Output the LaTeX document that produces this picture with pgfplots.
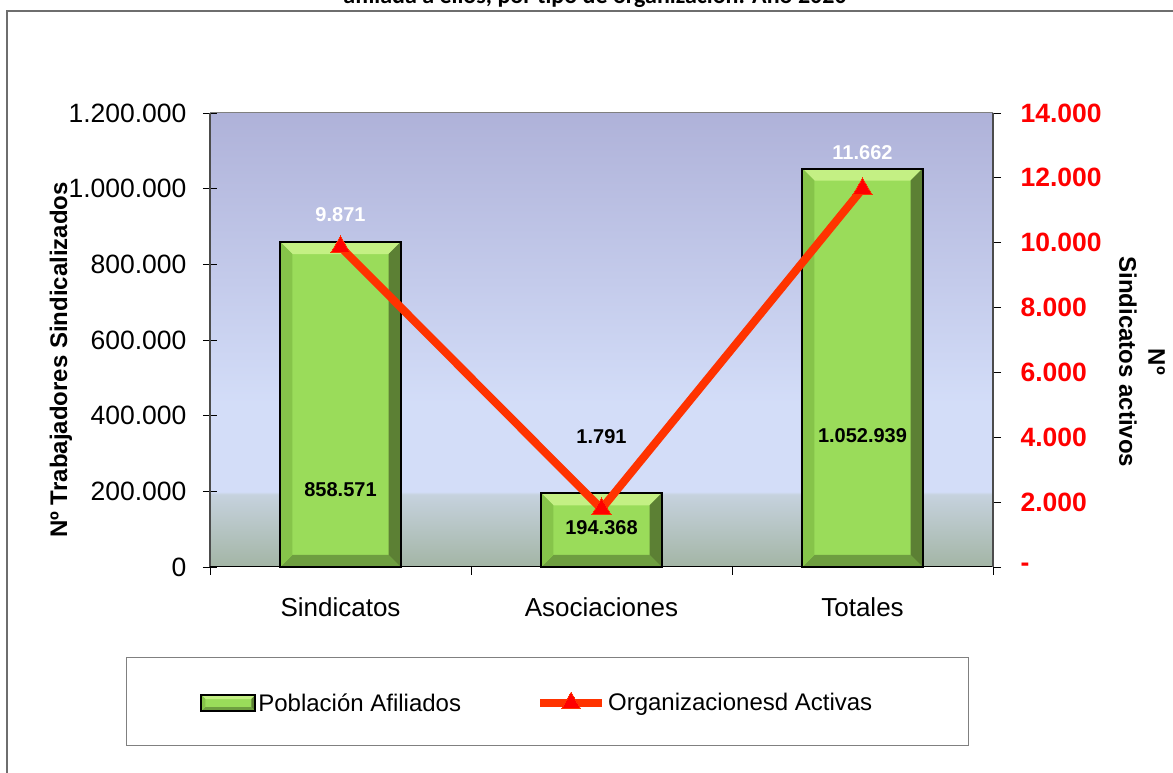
\documentclass[border=0pt]{standalone}
\usepackage{fontspec}
\setmainfont{Liberation Sans}
\newfontfamily\titlefont{Carlito}
\usepackage{pgfplots}
\pgfplotsset{compat=1.18}
\definecolor{bgbot}{HTML}{A3B5A5}
\definecolor{bgmidb}{HTML}{C6D2DE}
\definecolor{bgmid}{HTML}{D3DDF8}
\definecolor{bgtop}{HTML}{AFB2D9}
\definecolor{barGreen}{HTML}{9ADC5A}
\definecolor{bevTop}{HTML}{C4F084}
\definecolor{bevLeft}{HTML}{86C44A}
\definecolor{bevRight}{HTML}{5C8034}
\definecolor{bevBot}{HTML}{6E9E40}
\definecolor{lineRed}{HTML}{FF3300}
\definecolor{frameGray}{HTML}{6E6E6E}
\pgfdeclareverticalshading{plotbg}{100bp}{color(0bp)=(bgbot); color(25bp)=(bgbot); color(33bp)=(bgmidb); color(33.3bp)=(bgmid); color(43bp)=(bgmid); color(75bp)=(bgtop); color(100bp)=(bgtop)}
\pgfplotsset{mylinelegend/.style={legend image code/.code={\draw[mark repeat=2,mark phase=2,##1] plot coordinates {(0pt,0pt) (31pt,0pt) (62pt,0pt)};}}}
\tikzset{bevfill/.style={path picture={}, draw=none, line width=0pt},
bevel/.style={path picture={
  \fill[bevfill, bevTop] (path picture bounding box.north west) -- (path picture bounding box.north east) -- ([shift={(-#1,-#1)}]path picture bounding box.north east) -- ([shift={(#1,-#1)}]path picture bounding box.north west) -- cycle;
  \fill[bevfill, bevRight] (path picture bounding box.north east) -- (path picture bounding box.south east) -- ([shift={(-#1,#1)}]path picture bounding box.south east) -- ([shift={(-#1,-#1)}]path picture bounding box.north east) -- cycle;
  \fill[bevfill, bevBot] (path picture bounding box.south east) -- (path picture bounding box.south west) -- ([shift={(#1,#1)}]path picture bounding box.south west) -- ([shift={(-#1,#1)}]path picture bounding box.south east) -- cycle;
  \fill[bevfill, bevLeft] (path picture bounding box.south west) -- (path picture bounding box.north west) -- ([shift={(#1,-#1)}]path picture bounding box.north west) -- ([shift={(#1,#1)}]path picture bounding box.south west) -- cycle;
}}}
\pgfplotsset{barstyle/.style={fill=barGreen, draw=black, line width=2pt, bevel=12pt, bar shift=0pt}}
\begin{document}
\begin{tikzpicture}[x=1pt,y=1pt]
\useasboundingbox (0,0) rectangle (1173,773);
\draw[frameGray, line width=1.5pt] (7,0) -- (7,762) -- (1173,762);
\node[font=\titlefont\bfseries\fontsize{24}{28}\selectfont, anchor=base] at (595,769) {afiliada a ellos, por tipo de organización. Año 2020};
\draw[gray, line width=1pt] (126,27) rectangle (968,115);

\begin{axis}[
  at={(210pt,206pt)}, anchor=south west,
  scale only axis, width=783pt, height=454pt,
  xmin=-0.5, xmax=2.5, ymin=0, ymax=1200000,
  axis x line*=bottom, axis y line*=left,
  axis background/.style={shading=plotbg},
  x axis line style={black, line width=1pt, -},
  y axis line style={black!70, line width=2pt, -},
  xtick={0,1,2}, xticklabels={Sindicatos,Asociaciones,Totales},
  major x tick style={draw=none},
  x tick label style={font=\fontsize{26}{30}\selectfont, yshift=-13pt},
  ytick={0,200000,400000,600000,800000,1000000,1200000},
  yticklabels={0,200.000,400.000,600.000,800.000,1.000.000,1.200.000},
  scaled y ticks=false,
  y tick label style={font=\fontsize{26.5}{30}\selectfont, xshift=-13pt},
  tick align=center, major tick length=14pt,
  major y tick style={black, line width=0.8pt},
  /pgf/number format/assume math mode=true,
  ybar, bar width=0.46,
  clip=false,
]
\addplot[barstyle] coordinates {(0,858571)};
\addplot[barstyle] coordinates {(1,194368)};
\addplot[barstyle] coordinates {(2,1052939)};
\node[font=\bfseries\fontsize{20}{24}\selectfont] at (axis cs:0,203500) {858.571};
\node[font=\bfseries\fontsize{20}{24}\selectfont] at (axis cs:1,103000) {194.368};
\node[font=\bfseries\fontsize{20}{24}\selectfont] at (axis cs:2,346000) {1.052.939};
\end{axis}

\begin{axis}[
  at={(210pt,206pt)}, anchor=south west,
  scale only axis, width=783pt, height=454pt,
  xmin=-0.5, xmax=2.5, ymin=0, ymax=14000,
  axis x line*=bottom, axis y line*=right,
  x axis line style={black, line width=1pt, -},
  y axis line style={black!70, line width=2pt, -},
  xtick={-0.5,0.5,1.5,2.5}, xticklabels={},
  ytick={0,2000,4000,6000,8000,10000,12000,14000},
  yticklabels={-,2.000,4.000,6.000,8.000,10.000,12.000,14.000},
  scaled y ticks=false,
  y tick label style={font=\bfseries\fontsize{26.5}{30}\selectfont, text=red, xshift=16pt},
  tick align=outside, major tick length=8pt,
  tick style={black, line width=0.8pt},
  /pgf/number format/assume math mode=true,
  clip=false,
  after end axis/.code={\draw[gray, line width=1pt] (rel axis cs:0,1) -- (rel axis cs:1,1);},
  legend style={at={(0.418,-0.2996)}, anchor=center, draw=none, fill=none,
    font=\fontsize{24}{28}\selectfont,
    /tikz/every even column/.append style={column sep=73pt}},
  legend columns=2,
]
\addlegendimage{legend image code/.code={\draw[fill=barGreen, draw=black, line width=2pt, bevel=4pt] (0pt,-8pt) rectangle (54pt,8pt);}}
\addlegendentry{Población Afiliados}
\addplot[lineRed, line width=8pt, mark=triangle*, mark size=11pt,
  mark options={fill=red, draw=none, line width=0pt}, mylinelegend]
  coordinates {(0,9871) (1,1791) (2,11662)};
\addlegendentry{Organizacionesd Activas}
\node[font=\bfseries\fontsize{20}{24}\selectfont, text=white] at (axis cs:0,10855) {9.871};
\node[font=\bfseries\fontsize{20}{24}\selectfont, text=white] at (axis cs:2,12766) {11.662};
\node[font=\bfseries\fontsize{20}{24}\selectfont] at (axis cs:1,4009) {1.791};
\end{axis}

\node[font=\bfseries\fontsize{24}{28}\selectfont, rotate=90] at (61,413) {Nº Trabajadores Sindicalizados};
\node[font=\bfseries\fontsize{24}{29}\selectfont, rotate=-90, align=center] at (1142,411) {Nº\\Sindicatos activos};
\end{tikzpicture}
\end{document}
